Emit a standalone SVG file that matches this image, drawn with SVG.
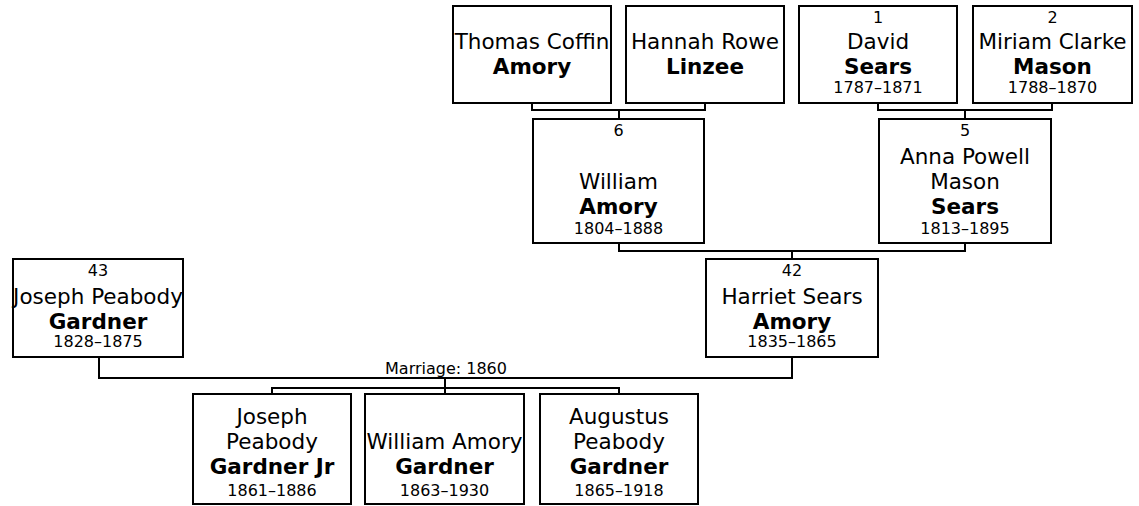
<svg xmlns="http://www.w3.org/2000/svg" width="1139" height="506" viewBox="0 0 1139 506">
<style>
rect.box{fill:#fff;stroke:#000;stroke-width:2}
.c path{fill:none;stroke:#000;stroke-width:2}
text{font-family:"DejaVu Sans","Liberation Sans",sans-serif;text-anchor:middle;fill:#000}
.nm{font-size:21.5px}
.sn{font-size:21.5px;font-weight:bold}
.sm{font-size:16px}
</style>
<rect width="1139" height="506" fill="#fff"/>
<g class="c" id="connectors">
<path d="M532 104V110H705V104M619 110V118"/>
<path d="M878 104V110H1052V104M965 110V118"/>
<path d="M619 244V251H965V244M792 251V258"/>
<path d="M99 358V378H792V358"/>
<path d="M445 378V388M272 393V388H619V393M445 388V393"/>
<text class="sm" x="446" y="374">Marriage: 1860</text>
</g>
<g id="thomas">
<rect class="box" x="453" y="6" width="158" height="97"/>
<text class="nm" x="532" y="48.5">Thomas Coffin</text>
<text class="sn" x="532" y="73.5">Amory</text>
</g>
<g id="hannah">
<rect class="box" x="626" y="6" width="158" height="97"/>
<text class="nm" x="705" y="48.5">Hannah Rowe</text>
<text class="sn" x="705" y="73.5">Linzee</text>
</g>
<g id="david">
<rect class="box" x="799" y="6" width="158" height="97"/>
<text class="sm" x="878" y="22.5">1</text>
<text class="nm" x="878" y="48.5">David</text>
<text class="sn" x="878" y="73.5">Sears</text>
<text class="sm" x="878" y="92.5">1787–1871</text>
</g>
<g id="miriam">
<rect class="box" x="973" y="6" width="159" height="97"/>
<text class="sm" x="1052.5" y="22.5">2</text>
<text class="nm" x="1052.5" y="48.5">Miriam Clarke</text>
<text class="sn" x="1052.5" y="73.5">Mason</text>
<text class="sm" x="1052.5" y="92.5">1788–1870</text>
</g>
<g id="william">
<rect class="box" x="533" y="119" width="171" height="124"/>
<text class="sm" x="618.5" y="136">6</text>
<text class="nm" x="618.5" y="188.5">William</text>
<text class="sn" x="618.5" y="214">Amory</text>
<text class="sm" x="618.5" y="233.5">1804–1888</text>
</g>
<g id="anna">
<rect class="box" x="879" y="119" width="172" height="124"/>
<text class="sm" x="965" y="136">5</text>
<text class="nm" x="965" y="164">Anna Powell</text>
<text class="nm" x="965" y="188.5">Mason</text>
<text class="sn" x="965" y="214">Sears</text>
<text class="sm" x="965" y="233.5">1813–1895</text>
</g>
<g id="joseph-sr">
<rect class="box" x="13" y="259" width="170" height="98"/>
<text class="sm" x="98" y="276">43</text>
<text class="nm" x="98" y="303.5">Joseph Peabody</text>
<text class="sn" x="98" y="328.5">Gardner</text>
<text class="sm" x="98" y="347">1828–1875</text>
</g>
<g id="harriet">
<rect class="box" x="706" y="259" width="172" height="98"/>
<text class="sm" x="792" y="276">42</text>
<text class="nm" x="792" y="303.5">Harriet Sears</text>
<text class="sn" x="792" y="328.5">Amory</text>
<text class="sm" x="792" y="347">1835–1865</text>
</g>
<g id="joseph-jr">
<rect class="box" x="193" y="394" width="158" height="110"/>
<text class="nm" x="272" y="423.5">Joseph</text>
<text class="nm" x="272" y="448.5">Peabody</text>
<text class="sn" x="272" y="473.5">Gardner Jr</text>
<text class="sm" x="272" y="495.5">1861–1886</text>
</g>
<g id="william-g">
<rect class="box" x="365" y="394" width="159" height="110"/>
<text class="nm" x="444.5" y="448.5">William Amory</text>
<text class="sn" x="444.5" y="473.5">Gardner</text>
<text class="sm" x="444.5" y="495.5">1863–1930</text>
</g>
<g id="augustus">
<rect class="box" x="540" y="394" width="158" height="110"/>
<text class="nm" x="619" y="423.5">Augustus</text>
<text class="nm" x="619" y="448.5">Peabody</text>
<text class="sn" x="619" y="473.5">Gardner</text>
<text class="sm" x="619" y="495.5">1865–1918</text>
</g>
</svg>
